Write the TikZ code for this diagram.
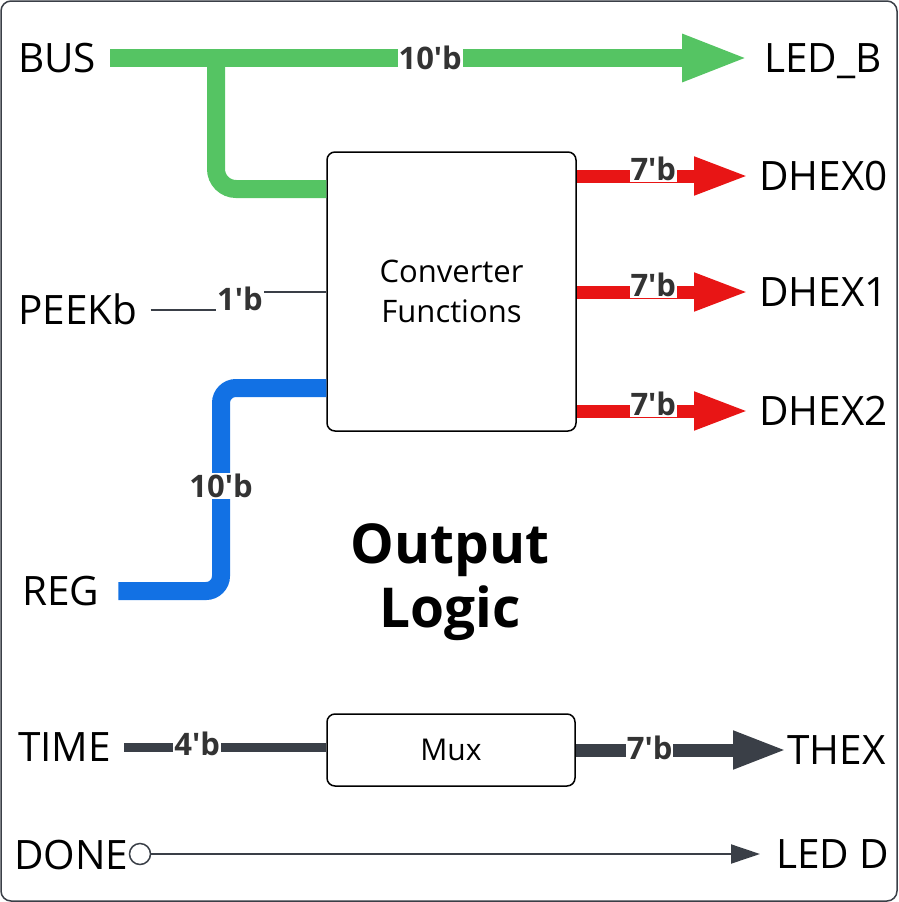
\documentclass[tikz,border=0pt]{standalone}
\usepackage{fontspec}
\setmainfont{Open Sans}
\usepackage{xcolor}
\usepackage{tikz}
\usetikzlibrary{positioning,arrows.meta,calc}
\definecolor{busgreen}{HTML}{55C463}
\definecolor{hexred}{HTML}{E81515}
\definecolor{regblue}{HTML}{1271E4}
\definecolor{wiregray}{HTML}{3A3F47}
\definecolor{bitgray}{HTML}{333333}
\newcommand{\bw}[1]{#1\textquotesingle b}

\begin{document}
\begin{tikzpicture}[x=1pt, y=-1pt,
    port/.style={inner sep=0pt, anchor=west, text height=29pt, text depth=0pt,
      font=\fontsize{40.5}{42}\selectfont},
    block/.style={draw, rounded corners=8pt, line width=1.5pt, align=center,
      font=\fontsize{31}{40}\selectfont},
    bits/.style={fill=white, inner sep=1pt, text=bitgray,
      font=\fontsize{31}{32}\selectfont\bfseries}]
  \useasboundingbox (0,0) rectangle (898,902);
  % Frame
  \draw[wiregray, line width=1.5pt, rounded corners=10pt] (1,1) rectangle (897,901);

  % Blocks
  \node[block, minimum width=249pt, minimum height=279pt] (conv) at (451.5,291.5)
    {Converter\\Functions};
  \node[block, minimum width=248pt, minimum height=72pt,
        font=\fontsize{30}{36}\selectfont] (mux) at (451,750) {Mux};
  \node[align=center, font=\fontsize{55}{64}\selectfont\bfseries] (title)
    at (450,582) {Output\\Logic};

  % Inputs
  \node[port] (bus) at (18,58) {BUS};
  \node[port] (peek) at (18,310) {PEEKb};
  \node[port] (reg) at (22,591) {REG};
  \node[port] (time) at (18,747) {TIME};
  \node[port] (done) at (14,855) {DONE};

  % Outputs
  \node[port] (ledb) at (764,58) {LED\_B};
  \node[port] (dhex0) at (759,176) {DHEX0};
  \node[port] (dhex1) at (759,292) {DHEX1};
  \node[port] (dhex2) at (759,411) {DHEX2};
  \node[port] (thex) at (787,750) {THEX};
  \node[port] (ledd) at (776,854) {LED D};

  % Bus to LEDs and converter
  \coordinate (tap) at (216,58);
  \draw[busgreen, line width=18pt, rounded corners=20pt]
    (tap) |- ([yshift=102.5pt]conv.west);
  \draw[busgreen, line width=18pt, shorten <=14pt, shorten >=15pt,
        -{Triangle[length=67pt, width=43pt]}]
    (bus.east) -- node[bits] {\bw{10}} (ledb.west);

  % Peek select
  \draw[wiregray, line width=2pt, shorten <=13pt]
    (peek.east) -| ([xshift=-87pt]conv.west) -- (conv.west);
  \node[bits] (peekbits) at (240,299) {\bw{1}};

  % Register value
  \coordinate (regbend) at (221,388);
  \draw[regblue, line width=18pt, rounded corners=15pt, shorten <=19pt]
    (reg.east) -| (regbend) -- (regbend -| conv.west);
  \node[bits] (regbits) at (221,486) {\bw{10}};

  % Hex displays
  \foreach \hx in {dhex0, dhex1, dhex2}
    \draw[hexred, line width=13pt, shorten >=10pt,
          -{Triangle[length=55pt, width=35pt]}]
      (conv.east |- \hx.west) -- node[bits, pos=0.42, yshift=7pt] {\bw{7}}
      (\hx.west);

  % Time display
  \draw[wiregray, line width=9pt, shorten <=13pt] (time.east) --
    node[bits, pos=0.4, yshift=3pt] {\bw{4}} (time.east -| mux.west);
  \draw[wiregray, line width=13pt, -{Triangle[length=54pt, width=35pt]}]
    (mux.east) -- node[bits, pos=0.35, yshift=2pt] {\bw{7}} (thex.west);

  % Done flag
  \node[circle, draw=wiregray, line width=1.5pt, fill=white, minimum size=21pt,
        inner sep=0pt] (donedot) at (140,854) {};
  \draw[wiregray, line width=2pt, shorten >=16pt,
        -{Triangle[length=29pt, width=19pt]}]
    (donedot) -- (ledd.west);
\end{tikzpicture}
\end{document}
